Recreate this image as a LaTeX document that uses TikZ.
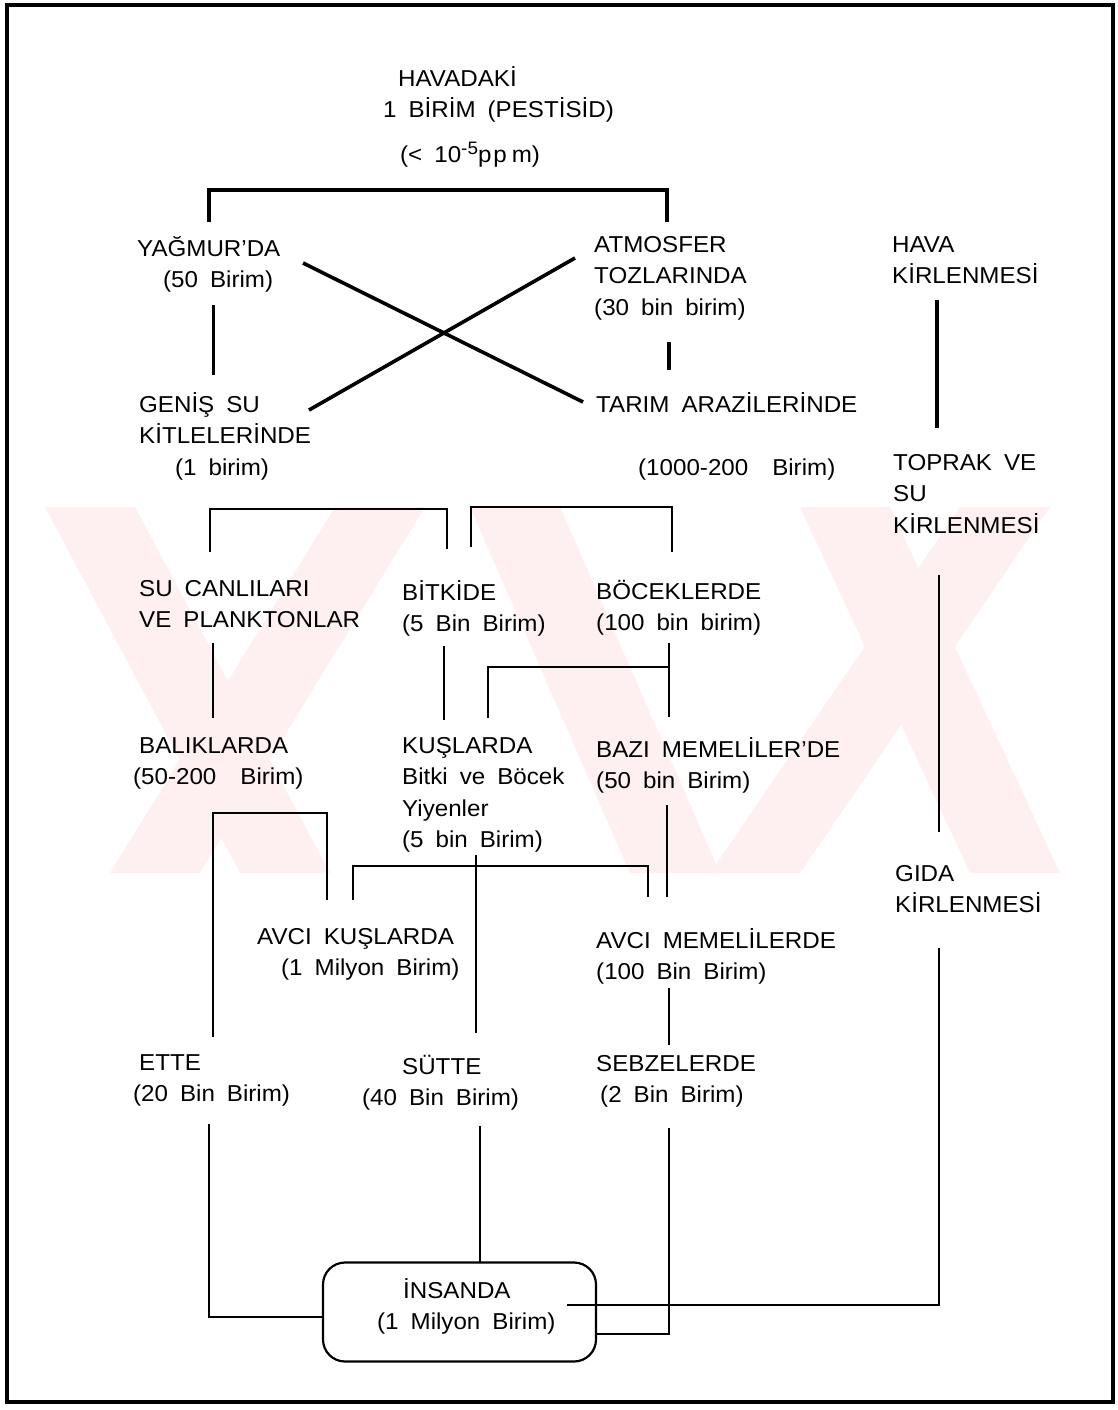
\documentclass[tikz,border=0pt]{standalone}
\usepackage{fontspec}
\setmainfont{Liberation Sans}[FakeStretch=1.05]
\definecolor{wm}{HTML}{FEEFF1}
\newcommand{\lblsetup}{\spaceskip=12pt plus 2pt\relax\rule{0pt}{22pt}}
\tikzset{
  lbl/.style={anchor=north west, inner sep=0pt, align=left, yshift=-4pt,
    font=\fontsize{23}{31.5}\selectfont,
    execute at begin node=\lblsetup},
  ln/.style={line width=2.2pt},
  thk/.style={line width=3.6pt},
  wmark/.style={fill=wm, draw=none},
  boxst/.style={draw, line width=2.2pt, rounded corners=22pt, minimum width=273pt, minimum height=99pt, inner sep=0pt}
}
\begin{document}
\begin{tikzpicture}[x=1pt,y=-1pt]
\useasboundingbox (0,0) rectangle (1118,1410);
% watermark (faint)
\fill[wmark] (45,507) -- (135,507) -- (330,873) -- (240,873) -- cycle;
\fill[wmark] (335,507) -- (425,507) -- (200,873) -- (110,873) -- cycle;
\fill[wmark] (470,507) -- (560,507) -- (720,873) -- (630,873) -- cycle;
\fill[wmark] (800,507) -- (890,507) -- (1060,873) -- (970,873) -- cycle;
\fill[wmark] (960,507) -- (1050,507) -- (800,873) -- (710,873) -- cycle;
% frame
\draw[line width=4pt] (7,5) rectangle (1113,1402);
% texts
\node[lbl] (title) at (383,62) {\hspace*{15pt}HAVADAKİ\\1 BİRİM (PESTİSİD)\\[13pt]\hspace*{17pt}(< 10\raisebox{8pt}{\fontsize{18}{18}\selectfont -5}p\kern2pt p\kern5pt m)};
\node[lbl] (yag) at (137,232) {YAĞMUR'DA\\\hspace*{26pt}(50 Birim)};
\node[lbl] (atm) at (594,232) {ATMOSFER\\TOZLARINDA\\(30 bin birim)};
\node[lbl] (hava) at (892,232) {HAVA\\KİRLENMESİ};
\node[lbl] (genis) at (139,388) {GENİŞ SU\\KİTLELERİNDE\\\hspace*{36pt}(1 birim)};
\node[lbl] (tarim) at (596,388) {TARIM ARAZİLERİNDE\\[31.5pt]\hspace*{42pt}(1000-200\ \ Birim)};
\node[lbl] (toprak) at (893,450) {TOPRAK VE\\SU\\KİRLENMESİ};
\node[lbl] (su) at (139,576) {SU CANLILARI\\VE PLANKTONLAR};
\node[lbl] (bitki) at (402,576) {BİTKİDE\\(5 Bin Birim)};
\node[lbl] (bocek) at (596,576) {BÖCEKLERDE\\(100 bin birim)};
\node[lbl] (balik) at (133,733) {\hspace*{6pt}BALIKLARDA\\(50-200\ \ Birim)};
\node[lbl] (kus) at (402,733) {KUŞLARDA\\Bitki ve Böcek\\Yiyenler\\(5 bin Birim)};
\node[lbl] (bazi) at (596,733) {BAZI MEMELİLER'DE\\(50 bin Birim)};
\node[lbl] (gida) at (895,861) {GIDA\\KİRLENMESİ};
\node[lbl] (avcik) at (257,924) {AVCI KUŞLARDA\\\hspace*{24pt}(1 Milyon Birim)};
\node[lbl] (avcim) at (596,924) {AVCI MEMELİLERDE\\(100 Bin Birim)};
\node[lbl] (et) at (133,1050) {\hspace*{6pt}ETTE\\(20 Bin Birim)};
\node[lbl] (sut) at (362,1051) {\hspace*{40pt}SÜTTE\\(40 Bin Birim)};
\node[lbl] (sebze) at (596,1051) {SEBZELERDE\\\hspace*{4pt}(2 Bin Birim)};
\node[boxst] (insan) at (459.5,1312) {};
\node[lbl] (insanT) at (377,1274) {\hspace*{26pt}İNSANDA\\(1 Milyon Birim)};
% connectors
\draw[thk] (209,222) -- (209,190) -- (667,190) -- (667,222);
\draw[thk] (303,263) -- (583,402);
\draw[thk] (575,258) -- (309,410);
\draw[line width=3pt] (213,305) -- (213,375);
\draw[thk] (669,342) -- (669,370);
\draw[thk] (937,300) -- (937,428);
\draw[ln] (939,575) -- (939,832);
\draw[ln] (939,948) -- (939,1305) -- (567,1305);
\draw[ln] (210,552) -- (210,509) -- (447,509) -- (447,549);
\draw[ln] (471,547) -- (471,507) -- (672,507) -- (672,552);
\draw[ln] (213,643) -- (213,718);
\draw[ln] (444,646) -- (444,720);
\draw[ln] (669,643) -- (669,717);
\draw[ln] (669,667) -- (488,667) -- (488,718);
\draw[ln] (213,1037) -- (213,813) -- (327,813) -- (327,900);
\draw[ln] (353,900) -- (353,866) -- (648,866) -- (648,897);
\draw[ln] (667,805) -- (667,897);
\draw[ln] (476,855) -- (476,1033);
\draw[ln] (669,988) -- (669,1045);
\draw[ln] (209,1124) -- (209,1317) -- (insan.west |- 0,1317);
\draw[ln] (480,1126) -- (480,1262.5);
\draw[ln] (669,1128) -- (669,1334) -- (insan.east |- 0,1334);
\end{tikzpicture}
\end{document}
